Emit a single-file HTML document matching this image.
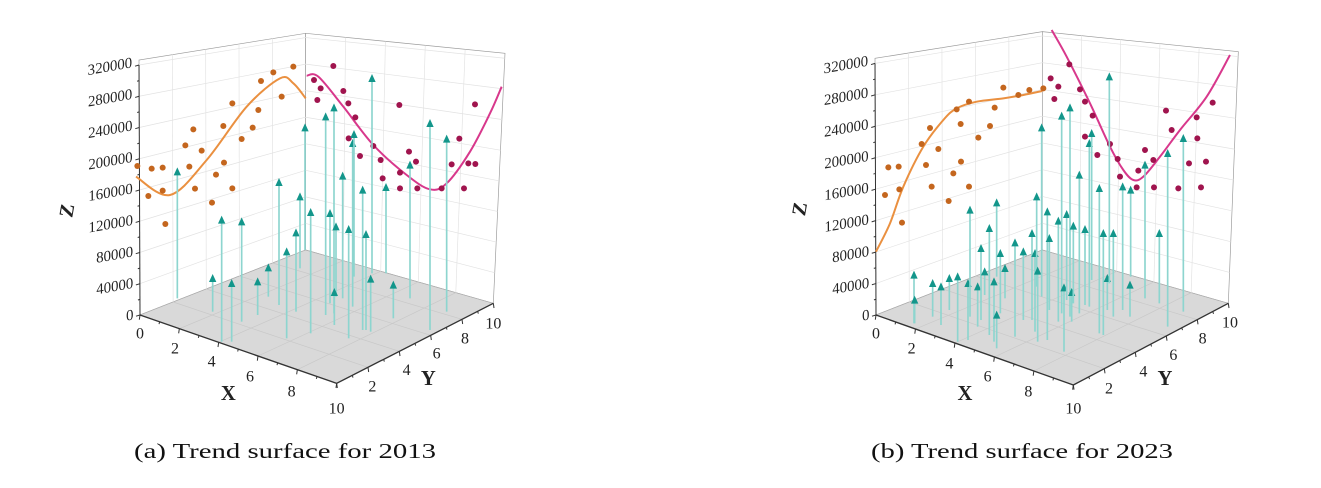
<!DOCTYPE html>
<html><head><meta charset="utf-8"><style>
html,body{margin:0;padding:0;background:#fff;width:1321px;height:488px;overflow:hidden}
svg{display:block}
</style></head><body>
<svg id="s" width="1321" height="488" xmlns="http://www.w3.org/2000/svg">
<text x="285" y="458" text-anchor="middle" font-family="Liberation Serif, serif" font-size="21" textLength="302" lengthAdjust="spacingAndGlyphs" fill="#111">(a) Trend surface for 2013</text>
<text x="1022" y="458" text-anchor="middle" font-family="Liberation Serif, serif" font-size="21" textLength="302" lengthAdjust="spacingAndGlyphs" fill="#111">(b) Trend surface for 2023</text>
</svg>
<script>
const NS="http://www.w3.org/2000/svg";
const S=document.getElementById('s');
function el(p,t,a,txt){const e=document.createElementNS(NS,t);for(const k in a)e.setAttribute(k,a[k]);if(txt!==undefined)e.textContent=txt;p.appendChild(e);return e;}
function lerp(a,b,t){return [a[0]+(b[0]-a[0])*t,a[1]+(b[1]-a[1])*t];}
function chart(ox,oy,g0){
 const g=el(S,'g',{transform:`translate(${ox},${oy}) scale(0.33333)`});
 const L=g0.L,B=g0.B,F=g0.F,R=g0.R,LT=g0.LT,BT=g0.BT,RT=g0.RT;
 el(g,'polygon',{points:[L,LT,BT,B].join(' '),fill:'#fff',stroke:'#999','stroke-width':2});
 el(g,'polygon',{points:[B,BT,RT,R].join(' '),fill:'#fff',stroke:'#999','stroke-width':2});
 el(g,'polygon',{points:[L,B,R,F].join(' '),fill:'#d9d9d9',stroke:'#aaa','stroke-width':2});
 const gc='#e2e2e2';
 for(let i=1;i<5;i++){const t=i/5;
  let a=lerp(L,B,t),b=lerp(LT,BT,t);el(g,'line',{x1:a[0],y1:a[1],x2:b[0],y2:b[1],stroke:gc,'stroke-width':2});
  a=lerp(B,R,t);b=lerp(BT,RT,t);el(g,'line',{x1:a[0],y1:a[1],x2:b[0],y2:b[1],stroke:gc,'stroke-width':2});
  a=lerp(L,B,t);b=lerp(F,R,t);el(g,'line',{x1:a[0],y1:a[1],x2:b[0],y2:b[1],stroke:'#c8c8c8','stroke-width':2});
  a=lerp(L,F,t);b=lerp(B,R,t);el(g,'line',{x1:a[0],y1:a[1],x2:b[0],y2:b[1],stroke:'#c8c8c8','stroke-width':2});
 }
 const zt=320000/g0.zmax;
 for(let k=1;k<=8;k++){const f=k*40000/g0.zmax;
  let a=lerp(L,LT,f),b=lerp(B,BT,f),c=lerp(R,RT,f);
  el(g,'polyline',{points:[a,b,c].join(' '),fill:'none',stroke:gc,'stroke-width':2});
 }
 const za=lerp(L,LT,zt);
 el(g,'line',{x1:L[0],y1:L[1],x2:za[0],y2:za[1],stroke:'#333','stroke-width':3});
 for(let k=0;k<=16;k++){const p=lerp(L,LT,k*20000/g0.zmax);const w=k%2?6:12;
  el(g,'line',{x1:p[0]-w,y1:p[1]+w*0.3,x2:p[0],y2:p[1],stroke:'#333','stroke-width':3});
  if(k%2==0)el(g,'text',{x:p[0]-20,y:p[1]+13-k*0.4,'text-anchor':'end','font-family':'Liberation Serif, serif','font-size':45,'font-style':'italic',fill:'#222',transform:`rotate(-10 ${p[0]-20} ${p[1]})`},String(k*20000));
 }
 el(g,'text',{x:g0.zl[0],y:g0.zl[1],'font-family':'Liberation Serif, serif','font-size':60,'font-weight':'bold',fill:'#222',transform:`rotate(-80 ${g0.zl[0]} ${g0.zl[1]})`,'text-anchor':'middle'},'Z');
 el(g,'line',{x1:L[0],y1:L[1],x2:F[0],y2:F[1],stroke:'#333','stroke-width':4});
 el(g,'line',{x1:F[0],y1:F[1],x2:R[0],y2:R[1],stroke:'#333','stroke-width':4});
 for(let i=0;i<=10;i++){let p=lerp(L,F,i/10);const w=i%2?7:14;
  el(g,'line',{x1:p[0],y1:p[1],x2:p[0]-2,y2:p[1]+w,stroke:'#333','stroke-width':3});
  p=lerp(F,R,i/10);el(g,'line',{x1:p[0],y1:p[1],x2:p[0]+2,y2:p[1]+w,stroke:'#333','stroke-width':3});}
 g0.xl.forEach((p,i)=>el(g,'text',{x:p[0],y:p[1],'text-anchor':'middle','font-family':'Liberation Serif, serif','font-size':48,fill:'#222'},String(i*2)));
 g0.yl.forEach((p,i)=>el(g,'text',{x:p[0],y:p[1],'text-anchor':'middle','font-family':'Liberation Serif, serif','font-size':48,fill:'#222'},String((i+1)*2)));
 el(g,'text',{x:g0.X[0],y:g0.X[1],'text-anchor':'middle','font-family':'Liberation Serif, serif','font-size':62,'font-weight':'bold',fill:'#222'},'X');
 el(g,'text',{x:g0.Y[0],y:g0.Y[1],'text-anchor':'middle','font-family':'Liberation Serif, serif','font-size':62,'font-weight':'bold',fill:'#222'},'Y');
 function curve(pts,col){let d='M'+pts[0];for(let i=1;i<pts.length;i++){const p0=pts[i-1],p1=pts[i],pm=pts[i-2]||p0,pn=pts[i+1]||p1;
   const c1=[p0[0]+(p1[0]-pm[0])/6,p0[1]+(p1[1]-pm[1])/6],c2=[p1[0]-(pn[0]-p0[0])/6,p1[1]-(pn[1]-p0[1])/6];d+=' C'+c1+' '+c2+' '+p1;}
  el(g,'path',{d:d,fill:'none',stroke:col,'stroke-width':6});}
 curve(g0.oc,'#ea9040');curve(g0.pc,'#d8388c');
 g0.od.forEach(p=>el(g,'circle',{cx:p[0],cy:p[1],r:9,fill:'#c4661e'}));
 g0.pd.forEach(p=>el(g,'circle',{cx:p[0],cy:p[1],r:9,fill:'#a0144e'}));
 g0.ar.forEach(a=>{const[x,t,b]=a;
  el(g,'line',{x1:x,y1:b,x2:x,y2:t+10,stroke:'#8dd5cf','stroke-width':5});
  el(g,'polygon',{points:`${x-11},${t+16} ${x+11},${t+16} ${x},${t-8}`,fill:'#13968b'});});
}
chart(60,20,{L:[240,885],LT:[237,120],B:[737,690],BT:[737,40],R:[1300,850],RT:[1335,100],F:[830,1090],zmax:326400,
 zl:[40,575],X:[505,1140],Y:[1105,1095],
 xl:[[240,955],[345,1000],[455,1040],[570,1085],[695,1130],[830,1180]],
 yl:[[937,1115],[1040,1065],[1130,1015],[1215,970],[1300,925]],
 oc:[[228,470],[330,525],[440,420],[560,260],[660,175],[700,190],[737,235]],
 pc:[[740,167],[775,170],[850,260],[940,375],[1040,465],[1110,508],[1160,490],[1230,395],[1290,280],[1325,200]],
 od:[[232,438],[265,528],[275,446],[308,443],[308,512],[316,612],[376,376],[388,440],[400,328],[405,506],[425,392],[456,548],[468,464],[490,318],[492,428],[517,250],[517,505],[545,357],[578,323],[595,270],[603,183],[640,157],[665,230],[700,140]],
 pd:[[762,180],[782,205],[772,240],[820,138],[850,213],[865,250],[866,355],[886,292],[900,408],[940,378],[962,420],[968,475],[1018,255],[1020,505],[1020,458],[1047,395],[1068,425],[1072,505],[1145,505],[1175,433],[1198,356],[1212,505],[1225,430],[1246,432],[1245,253]],
 ar:[[352,450,835],[458,770,875],[485,595,965],[515,785,965],[545,600,905],[593,780,885],[625,738,830],[657,482,855],[680,690,955],[708,633,875],[720,525,745],[735,318,690],[752,572,940],[797,285,885],[810,575,850],[822,258,880],[828,615,830],[823,812,915],[848,463,835],[866,623,955],[878,365,860],[882,338,770],[908,505,930],[918,638,930],[932,772,935],[936,170,760],[978,497,760],[1000,790,895],[1050,430,835],[1110,305,930],[1160,352,875]]
});
chart(790,20,{L:[258,885],LT:[255,115],B:[757,690],BT:[757,35],R:[1315,850],RT:[1345,95],F:[850,1095],zmax:326400,
 zl:[48,570],X:[525,1140],Y:[1125,1095],
 xl:[[258,955],[365,1000],[478,1045],[593,1085],[715,1130],[850,1180]],
 yl:[[957,1120],[1060,1070],[1150,1020],[1238,970],[1320,922]],
 oc:[[258,695],[300,610],[340,500],[400,380],[460,300],[500,265],[560,245],[640,235],[700,225],[757,213]],
 pc:[[785,30],[830,110],[900,250],[960,380],[1000,450],[1030,480],[1060,470],[1110,410],[1170,330],[1250,230],[1320,105]],
 od:[[285,525],[295,442],[326,440],[328,508],[336,608],[395,372],[408,435],[420,324],[425,500],[445,387],[476,543],[490,460],[500,268],[512,312],[513,425],[537,245],[537,500],[565,353],[600,318],[614,263],[640,203],[685,225],[718,210],[760,205]],
 pd:[[782,175],[805,200],[793,237],[838,133],[870,208],[885,245],[885,350],[908,287],[922,405],[960,372],[983,417],[990,470],[1045,452],[1040,502],[1065,390],[1090,420],[1092,502],[1128,272],[1145,330],[1165,505],[1197,430],[1220,292],[1222,355],[1233,502],[1248,425],[1268,248]],
 ar:[[372,760,910],[374,835,910],[428,785,890],[453,795,915],[478,770,870],[503,765,965],[534,785,960],[540,565,890],[563,795,920],[573,680,900],[584,750,825],[598,620,945],[612,780,965],[620,880,985],[620,543,770],[631,695,880],[645,740,835],[675,663,950],[700,690,900],[726,635,900],[735,695,935],[740,525,800],[743,748,965],[755,318,830],[772,570,960],[778,650,870],[805,598,905],[815,283,880],[822,798,995],[830,578,840],[840,258,890],[845,812,905],[850,613,850],[868,460,880],[885,623,855],[898,365,860],[905,335,780],[928,500,940],[940,635,945],[952,770,870],[958,165,790],[970,635,890],[998,495,870],[1020,790,890],[1022,505,770],[1065,430,835],[1108,635,850],[1133,395,920],[1180,350,875]]
});
</script>
</body></html>
